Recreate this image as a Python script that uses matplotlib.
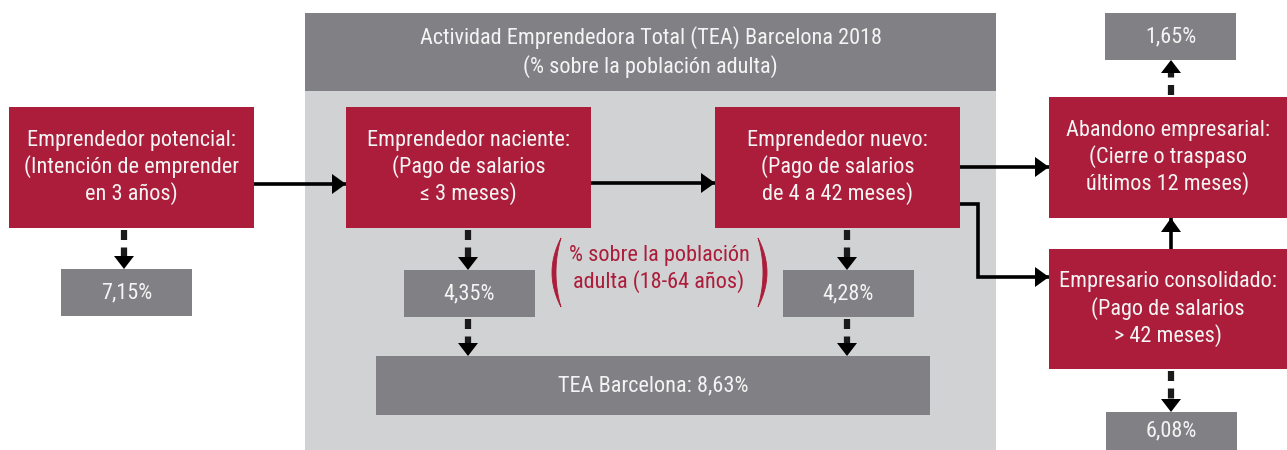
import matplotlib
matplotlib.use("Agg")
import numpy as np
import matplotlib.pyplot as plt
from matplotlib.patches import Rectangle, Polygon
from matplotlib import font_manager as fm

# ---- data ----
title_lines = ["Actividad Emprendedora Total (TEA) Barcelona 2018", "(% sobre la población adulta)"]
stage_labels = [
    "Emprendedor potencial:\n(Intención de emprender\nen 3 años)",
    "Emprendedor naciente:\n(Pago de salarios\n≤ 3 meses)",
    "Emprendedor nuevo:\n(Pago de salarios\nde 4 a 42 meses)",
    "Abandono empresarial:\n(Cierre o traspaso\núltimos 12 meses)",
    "Empresario consolidado:\n(Pago de salarios\n> 42 meses)",
]
stage_values = [7.15, 4.35, 4.28, 1.65, 6.08]
tea_label = "TEA Barcelona"
tea_value = 8.63
note_text = "% sobre la población\nadulta (18-64 años)"

def fmt(v):
    return f"{v:.2f}".replace(".", ",") + "%"

RED = "#AB1D3A"
DGRAY = "#818185"
LGRAY = "#D1D2D4"
TXT = "#F4F4F4"

# ---- pick a condensed font if one is installed ----
def find_condensed():
    prefs = ["Roboto Condensed", "Liberation Sans Narrow", "Open Sans Condensed",
             "Noto Sans Condensed", "DejaVu Sans Condensed"]
    cands = []
    for f in fm.fontManager.ttflist:
        nm = f.name
        st = str(f.stretch)
        is_cond = ("Condensed" in nm or "Narrow" in nm or "condensed" in st
                   or "Condensed" in f.fname or "Narrow" in f.fname)
        if not is_cond:
            continue
        if f.style != "normal":
            continue
        w = f.weight if isinstance(f.weight, int) else {"normal": 400, "regular": 400}.get(str(f.weight), 500)
        if w not in (300, 400):
            continue
        if "Bold" in f.fname or "Italic" in f.fname or "Oblique" in f.fname or "Light" in f.fname:
            continue
        if "extra" in st.lower() or "ultra" in st.lower():
            continue
        cands.append(f)
    def rank(f):
        base = f.fname.split("/")[-1]
        for i, p in enumerate(prefs):
            if p.replace(" ", "") in base.replace("-", "").replace("_", "") or p == f.name:
                return i
        return len(prefs)
    if cands:
        cands.sort(key=rank)
        return cands[0].fname
    return None

cfile = find_condensed()
if cfile:
    FP = fm.FontProperties(fname=cfile, size=16)
else:
    FP = fm.FontProperties(family="DejaVu Sans", size=12)

fig = plt.figure(figsize=(12.87, 4.5), dpi=100)
ax = fig.add_axes([0, 0, 1, 1])
ax.set_xlim(0, 1287)
ax.set_ylim(450, 0)
ax.axis("off")

def txt(x, y, s, color=TXT, ls=1.25):
    ax.text(x, y, s, ha="center", va="center", color=color,
            fontproperties=FP, linespacing=ls)

def box(x0, y0, x1, y1, color, text=None, tc=TXT, ls=1.25):
    ax.add_patch(Rectangle((x0, y0), x1 - x0, y1 - y0, facecolor=color, edgecolor="none"))
    if text is not None:
        txt((x0 + x1) / 2, (y0 + y1) / 2, text, color=tc, ls=ls)

def head(tx, ty, d, L=14, W=10):
    if d == "r":
        pts = [(tx, ty), (tx - L, ty - W), (tx - L, ty + W)]
    elif d == "d":
        pts = [(tx, ty), (tx - W, ty - L), (tx + W, ty - L)]
    else:
        pts = [(tx, ty), (tx - W, ty + L), (tx + W, ty + L)]
    ax.add_patch(Polygon(pts, closed=True, facecolor="black", edgecolor="none"))

def solid(xs, ys, d):
    ax.plot(xs, ys, color="black", lw=2.6, solid_capstyle="butt", solid_joinstyle="miter")
    head(xs[-1], ys[-1], d)

def dashed(x, y0, y1):
    s = 1 if y1 > y0 else -1
    ax.plot([x, x], [y0 + 2 * s, y1 - 13 * s], color="#1a1a1a", lw=4.5, dashes=(1.6, 1.2),
            solid_capstyle="butt")
    head(x, y1, "d" if s > 0 else "u", L=13, W=10)

def paren(x_end, y_top, y_bot, bulge_out, bulge_in):
    t = np.linspace(0, 1, 60)
    y = y_top + (y_bot - y_top) * t
    prof = 4 * t * (1 - t)
    outer = x_end + bulge_out * prof
    inner = x_end + bulge_in * prof
    pts = np.column_stack([np.r_[outer, inner[::-1]], np.r_[y, y[::-1]]])
    ax.add_patch(Polygon(pts, closed=True, facecolor=RED, edgecolor=RED, lw=0.6))

# panel
ax.add_patch(Rectangle((305, 13), 996 - 305, 450 - 13, facecolor=LGRAY, edgecolor="none"))
box(305, 13, 996, 91, DGRAY, "\n".join(title_lines), ls=1.3)

# stage boxes
box(9, 107, 254, 228, RED, stage_labels[0])
box(346, 107, 591, 228, RED, stage_labels[1])
box(715, 107, 960, 228, RED, stage_labels[2])
box(1049, 97, 1287, 218, RED, stage_labels[3])
box(1049, 249, 1287, 369, RED, stage_labels[4])

# value boxes
box(61, 269, 192, 316, DGRAY, fmt(stage_values[0]))
box(404, 270, 535, 317, DGRAY, fmt(stage_values[1]))
box(783, 270, 914, 317, DGRAY, fmt(stage_values[2]))
box(1105, 13, 1236, 60, DGRAY, fmt(stage_values[3]))
box(1106, 412, 1237, 450, DGRAY, fmt(stage_values[4]))
box(376, 356, 930, 415, DGRAY, f"{tea_label}: {fmt(tea_value)}")

# solid arrows
solid([254, 346], [184, 184], "r")
solid([591, 715], [183, 183], "r")
solid([960, 1049], [167, 167], "r")
solid([960, 978, 978, 1049], [204, 204, 277, 277], "r")
solid([1171, 1171], [249, 218], "u")

# dashed arrows
dashed(124, 228, 269)
dashed(468, 228, 270)
dashed(847, 228, 270)
dashed(468, 317, 356)
dashed(847, 317, 356)
dashed(1171, 97, 60)
dashed(1171, 369, 412)

# note with brackets
txt(659, 269, note_text, color=RED, ls=1.25)
paren(561, 238, 307, -9, -5)
paren(758, 238, 307, 9, 5)

fig.savefig("out.png", dpi=100)
